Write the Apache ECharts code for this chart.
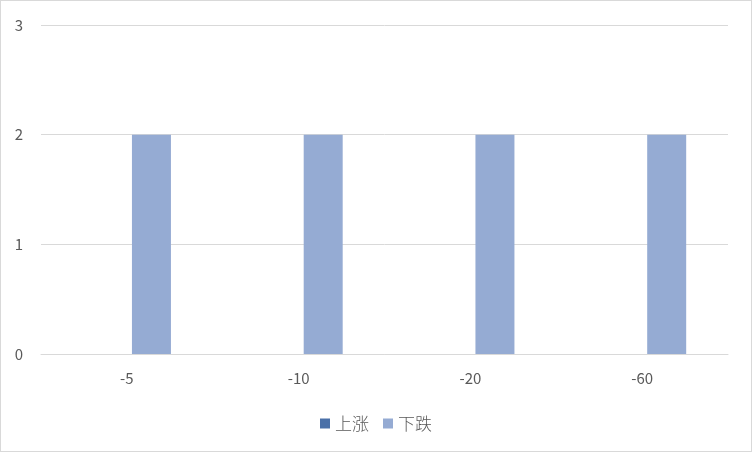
<!DOCTYPE html>
<html>
<head>
<meta charset="utf-8">
<script src="https://cdn.jsdelivr.net/npm/echarts@6/dist/echarts.min.js"></script>
<style>
  html, body { margin: 0; padding: 0; background: #fff; }
  #chart { width: 750px; height: 450px; border: 1px solid #d9d9d9; }
</style>
</head>
<body>
<div id="chart"></div>
<script>
const categories = ["-5", "-10", "-20", "-60"];
const upValues = [0, 0, 0, 0];
const downValues = [2, 2, 2, 2];
const seriesNames = ["上涨", "下跌"];

const chart = echarts.init(document.getElementById("chart"));
const font = "'Noto Sans CJK SC', 'Microsoft YaHei', sans-serif";

chart.setOption({
  animation: false,
  textStyle: { fontFamily: font },
  grid: { left: 40, right: 23, top: 24, bottom: 97 },
  legend: {
    top: 409,
    left: "center",
    itemWidth: 10,
    itemHeight: 10,
    itemGap: 14,
    icon: "rect",
    textStyle: { color: "#595959", fontSize: 17, fontFamily: font, fontWeight: 300 }
  },
  xAxis: {
    type: "category",
    data: categories,
    axisLine: { lineStyle: { color: "#d9d9d9", width: 1 } },
    axisTick: { show: false },
    axisLabel: { color: "#595959", fontSize: 15, margin: 17, fontFamily: font }
  },
  yAxis: {
    type: "value",
    min: 0,
    max: 3,
    interval: 1,
    axisLine: { show: false },
    axisTick: { show: false },
    splitLine: { lineStyle: { color: "#d9d9d9", width: 1 } },
    axisLabel: { color: "#595959", fontSize: 15, margin: 18, fontFamily: font }
  },
  series: [
    {
      name: seriesNames[0],
      type: "bar",
      data: upValues,
      barWidth: 39,
      barGap: "26%",
      itemStyle: { color: "#4a70a8" }
    },
    {
      name: seriesNames[1],
      type: "bar",
      data: downValues,
      barWidth: 39,
      barGap: "26%",
      itemStyle: { color: "#95abd3" }
    }
  ]
});
</script>
</body>
</html>
